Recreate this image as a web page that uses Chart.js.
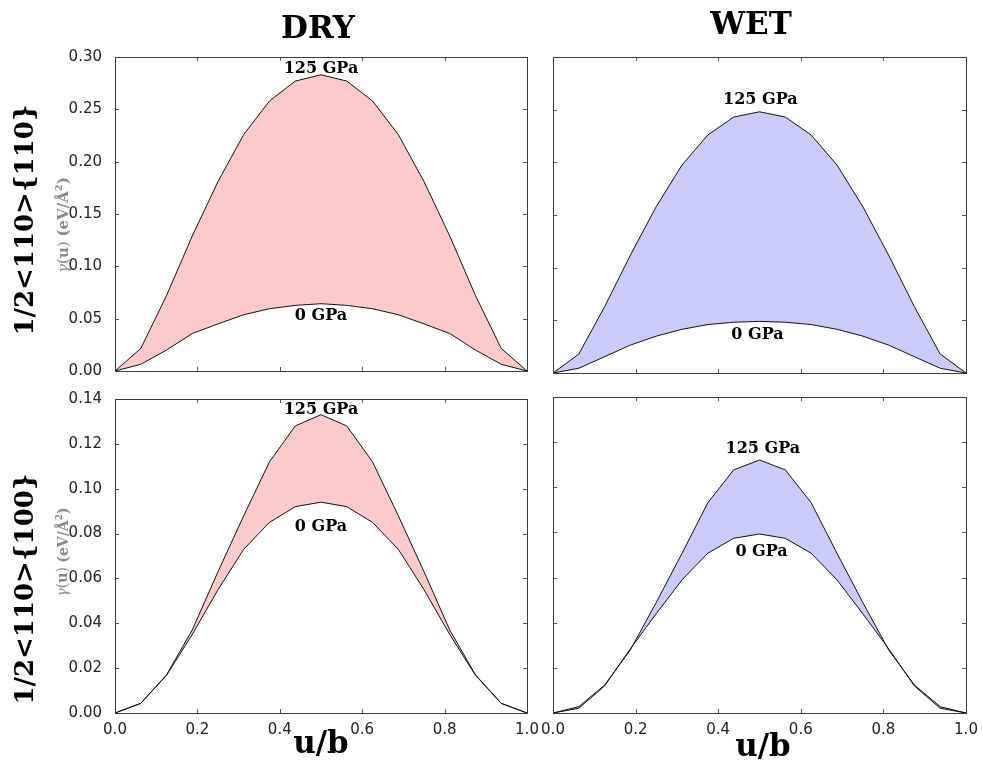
<!DOCTYPE html>
<html>
<head>
<meta charset="utf-8">
<script src="https://cdn.jsdelivr.net/npm/chart.js@4.4.1/dist/chart.umd.min.js"></script>
<style>
  body { margin: 0; background: #fff; }
  #page { position: relative; width: 983px; height: 765px; overflow: hidden; background: #fff; }
  #page canvas { position: absolute; }
  .txt { position: absolute; font-family: "DejaVu Serif", serif; font-weight: bold; color: #000;
         white-space: nowrap; transform: translate(-50%, -50%); line-height: 1; }
  .rot { transform: translate(-50%, -50%) rotate(-90deg); }
  .gam { font-weight: normal; color: #8a8a8a; }
</style>
</head>
<body>
<div id="page">
  <canvas id="cDry110" width="550" height="345" style="left:0px;top:40px"></canvas>
  <canvas id="cWet110" width="443" height="345" style="left:540px;top:40px"></canvas>
  <canvas id="cDry100" width="550" height="380" style="left:0px;top:385px"></canvas>
  <canvas id="cWet100" width="443" height="380" style="left:540px;top:385px"></canvas>

  <div class="txt" style="left:318px;top:27px;font-size:31px">DRY</div>
  <div class="txt" style="left:751px;top:23px;font-size:31px">WET</div>
  <div class="txt" style="left:321px;top:742px;font-size:31px">u/b</div>
  <div class="txt" style="left:763px;top:745px;font-size:31px">u/b</div>
  <div class="txt rot" style="left:24px;top:220px;font-size:26px">1/2&lt;110&gt;{110}</div>
  <div class="txt rot" style="left:24px;top:589px;font-size:26px">1/2&lt;110&gt;{100}</div>
  <div class="txt rot gam" style="left:62px;top:225px;font-size:15px"><i>γ</i>(<b>u</b>) <b>(eV/Å<sup style="font-size:10px">2</sup>)</b></div>
  <div class="txt rot gam" style="left:62px;top:552px;font-size:14px"><i>γ</i>(<b>u</b>) <b>(eV/Å<sup style="font-size:9px">2</sup>)</b></div>
</div>

<script>
// Posição relativa u/b
const uValues = [0, 0.0625, 0.125, 0.1875, 0.25, 0.3125, 0.375, 0.4375, 0.5,
                 0.5625, 0.625, 0.6875, 0.75, 0.8125, 0.875, 0.9375, 1];

// 1/2<110>{110}
const dry110_0GPa   = [0, 0.0064, 0.0200, 0.0358, 0.0450, 0.0538, 0.0595, 0.0627, 0.0643,
                       0.0627, 0.0595, 0.0538, 0.0450, 0.0358, 0.0200, 0.0064, 0];
const dry110_125GPa = [0, 0.0215, 0.072, 0.129, 0.181, 0.226, 0.258, 0.277, 0.283,
                       0.277, 0.258, 0.226, 0.181, 0.129, 0.072, 0.0215, 0];
const wet110_0GPa   = [0, 0.0045, 0.0155, 0.0265, 0.0350, 0.0415, 0.0460, 0.0482, 0.0490,
                       0.0482, 0.0460, 0.0415, 0.0350, 0.0265, 0.0155, 0.0045, 0];
const wet110_125GPa = [0, 0.018, 0.063, 0.112, 0.158, 0.1975, 0.226, 0.243, 0.248,
                       0.243, 0.226, 0.1975, 0.158, 0.112, 0.063, 0.018, 0];

// 1/2<110>{100}
const dry100_0GPa   = [0, 0.0043, 0.0168, 0.035, 0.055, 0.073, 0.085, 0.092, 0.094,
                       0.092, 0.085, 0.073, 0.055, 0.035, 0.0168, 0.0043, 0];
const dry100_125GPa = [0, 0.0043, 0.0170, 0.037, 0.063, 0.088, 0.112, 0.128, 0.133,
                       0.128, 0.112, 0.088, 0.063, 0.037, 0.0170, 0.0043, 0];
const wet100_0GPa   = [0, 0.0021, 0.012, 0.0285, 0.044, 0.059, 0.0708, 0.0774, 0.0793,
                       0.0774, 0.0708, 0.059, 0.044, 0.0285, 0.012, 0.0021, 0];
const wet100_125GPa = [0, 0.0028, 0.0124, 0.028, 0.049, 0.0708, 0.0932, 0.1077, 0.1121,
                       0.1077, 0.0932, 0.0708, 0.049, 0.028, 0.0124, 0.0028, 0];

// Ticks
const xTicks = [0, 0.2, 0.4, 0.6, 0.8, 1.0];
const yTicks110 = [0, 0.05, 0.10, 0.15, 0.20, 0.25, 0.30];
const yTicks100 = [0, 0.02, 0.04, 0.06, 0.08, 0.10, 0.12, 0.14];

const pressureLabels = ['0 GPa', '125 GPa'];

const toPoints = arr => arr.map((v, i) => ({ x: uValues[i], y: v }));

// Moldura e ticks para dentro (estilo matplotlib)
const framePlugin = {
    id: 'frame',
    afterDraw(chart) {
        const { ctx, chartArea: a, scales } = chart;
        ctx.save();
        ctx.strokeStyle = '#555';
        ctx.lineWidth = 1;
        scales.y.ticks.forEach(t => {
            const y = Math.round(scales.y.getPixelForValue(t.value)) + 0.5;
            ctx.beginPath();
            ctx.moveTo(a.left, y); ctx.lineTo(a.left + 4, y);
            ctx.moveTo(a.right, y); ctx.lineTo(a.right - 4, y);
            ctx.stroke();
        });
        scales.x.ticks.forEach(t => {
            const x = Math.round(scales.x.getPixelForValue(t.value)) + 0.5;
            ctx.beginPath();
            ctx.moveTo(x, a.top); ctx.lineTo(x, a.top + 4);
            ctx.moveTo(x, a.bottom); ctx.lineTo(x, a.bottom - 4);
            ctx.stroke();
        });
        ctx.strokeStyle = '#3a3a3a';
        ctx.strokeRect(Math.round(a.left) + 0.5, Math.round(a.top) + 0.5,
                       Math.round(a.right - a.left), Math.round(a.bottom - a.top));
        ctx.restore();
    }
};

// Rótulos "0 GPa" / "125 GPa" em coordenadas de dados
const labelPlugin = {
    id: 'pressao',
    afterDatasetsDraw(chart, args, opts) {
        const { ctx, scales } = chart;
        ctx.save();
        ctx.font = 'bold 16px "DejaVu Serif"';
        ctx.fillStyle = '#000';
        ctx.textAlign = 'center';
        ctx.textBaseline = 'middle';
        (opts.items || []).forEach(it => {
            ctx.fillText(it.text, scales.x.getPixelForValue(it.x), scales.y.getPixelForValue(it.y));
        });
        ctx.restore();
    }
};

function makePanel(id, low, high, fillColor, yTicks, cfg) {
    const ctx = document.getElementById(id).getContext('2d');
    return new Chart(ctx, {
        type: 'line',
        data: {
            datasets: [
                {
                    label: pressureLabels[0],
                    data: toPoints(low),
                    borderColor: '#111',
                    borderWidth: 1,
                    pointRadius: 0,
                    fill: false,
                },
                {
                    label: pressureLabels[1],
                    data: toPoints(high),
                    borderColor: '#111',
                    borderWidth: 1,
                    pointRadius: 0,
                    backgroundColor: fillColor,
                    fill: '-1',
                },
            ],
        },
        options: {
            responsive: false,
            animation: false,
            layout: { padding: { left: 0, top: cfg.top, right: cfg.right, bottom: 0 } },
            plugins: {
                legend: { display: false },
                tooltip: { enabled: false },
                pressao: { items: cfg.labels },
            },
            scales: {
                x: {
                    type: 'linear',
                    min: 0,
                    max: 1,
                    afterBuildTicks: s => { s.ticks = xTicks.map(v => ({ value: v })); },
                    afterFit: s => { s.height = cfg.bottom; },
                    grid: { display: false },
                    border: { display: false },
                    ticks: {
                        display: cfg.showX,
                        padding: 0,
                        color: '#222',
                        font: { family: '"DejaVu Sans"', size: 15 },
                        callback: v => v.toFixed(1),
                    },
                },
                y: {
                    min: 0,
                    max: yTicks[yTicks.length - 1],
                    afterBuildTicks: s => { s.ticks = yTicks.map(v => ({ value: v })); },
                    afterFit: s => { s.width = cfg.left; },
                    grid: { display: false },
                    border: { display: false },
                    ticks: {
                        display: cfg.showY,
                        padding: 5,
                        color: '#222',
                        font: { family: '"DejaVu Sans"', size: 15 },
                        callback: v => v.toFixed(2),
                    },
                },
            },
        },
        plugins: [framePlugin, labelPlugin],
    });
}

const pink = '#fccaca';
const lilac = '#cbcbfa';

makePanel('cDry110', dry110_0GPa, dry110_125GPa, pink, yTicks110, {
    left: 115, top: 17, right: 23, bottom: 12, showX: false, showY: true,
    labels: [{ text: '125 GPa', x: 0.5, y: 0.289 }, { text: '0 GPa', x: 0.5, y: 0.0524 }],
});
makePanel('cWet110', wet110_0GPa, wet110_125GPa, lilac, yTicks110, {
    left: 13, top: 17, right: 17, bottom: 12, showX: false, showY: false,
    labels: [{ text: '125 GPa', x: 0.502, y: 0.259 }, { text: '0 GPa', x: 0.495, y: 0.036 }],
});
makePanel('cDry100', dry100_0GPa, dry100_125GPa, pink, yTicks100, {
    left: 115, top: 12, right: 23, bottom: 52, showX: true, showY: true,
    labels: [{ text: '125 GPa', x: 0.5, y: 0.135 }, { text: '0 GPa', x: 0.5, y: 0.0829 }],
});
makePanel('cWet100', wet100_0GPa, wet100_125GPa, lilac, yTicks100, {
    left: 13, top: 12, right: 17, bottom: 52, showX: true, showY: false,
    labels: [{ text: '125 GPa', x: 0.508, y: 0.117 }, { text: '0 GPa', x: 0.505, y: 0.0713 }],
});
</script>
</body>
</html>
